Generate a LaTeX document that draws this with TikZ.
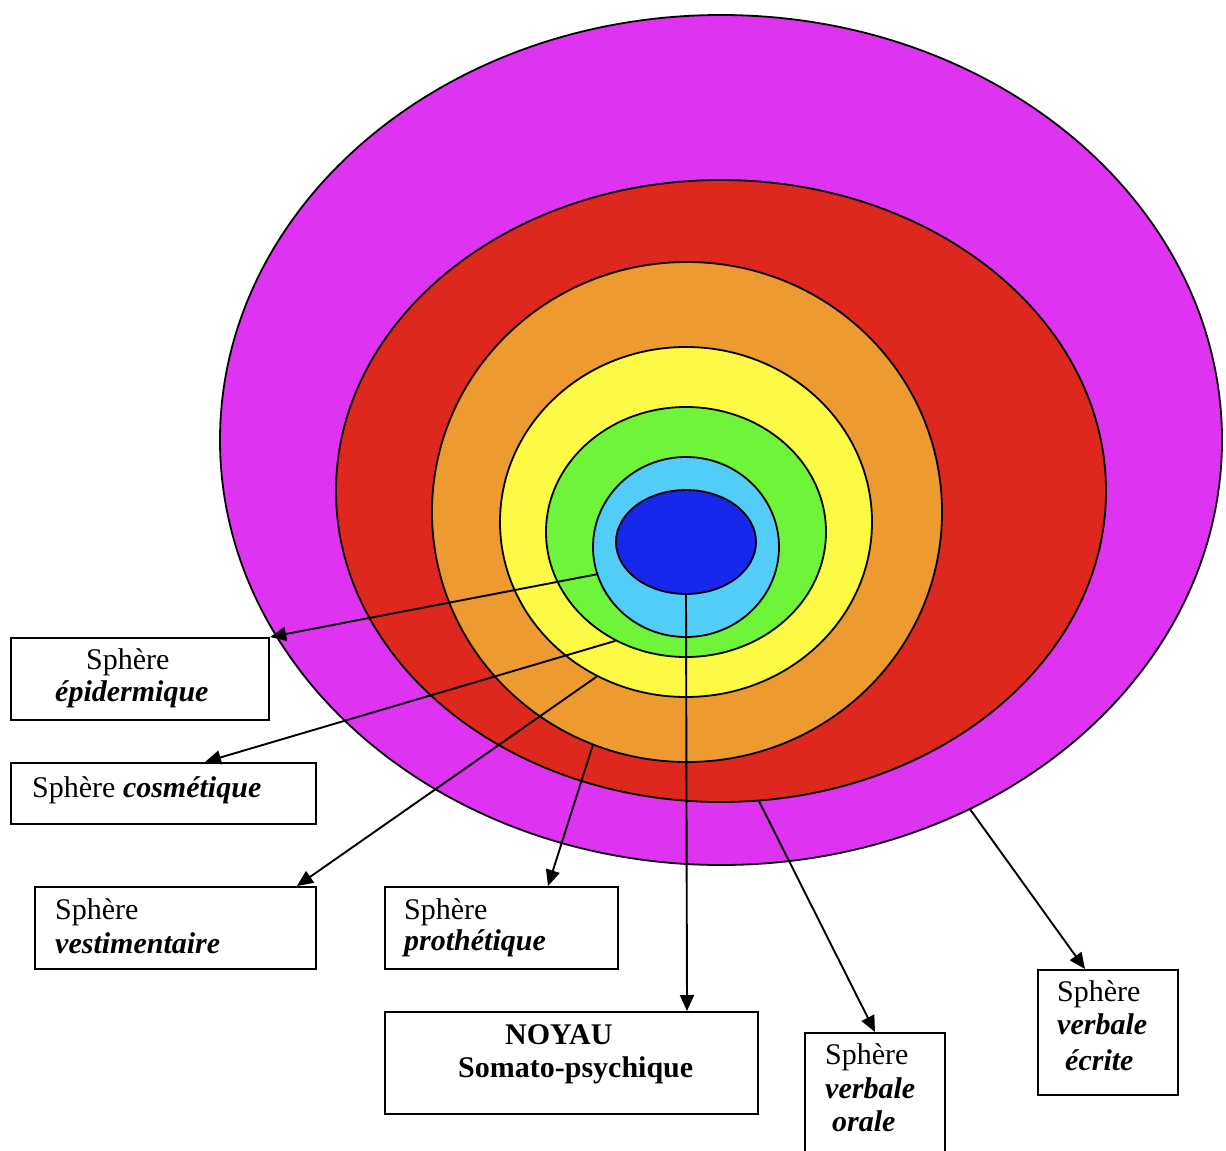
\documentclass[tikz,border=0pt]{standalone}
\usepackage{fontspec}
\setmainfont{Liberation Serif}
\usetikzlibrary{shapes.geometric,arrows.meta}
\definecolor{cpurple}{RGB}{222,52,242}
\definecolor{cred}{RGB}{222,40,30}
\definecolor{corange}{RGB}{237,154,48}
\definecolor{cyellow}{RGB}{252,250,68}
\definecolor{cgreen}{RGB}{110,245,58}
\definecolor{clblue}{RGB}{82,205,248}
\definecolor{cblue}{RGB}{22,40,236}
\begin{document}
\begin{tikzpicture}[x=1pt,y=-1pt,
  ring/.style={ellipse, draw=black, line width=1.8pt, inner sep=0pt},
  box/.style={draw=black, line width=2.2pt, fill=white, inner sep=0pt, anchor=north west},
  arr/.style={-{Triangle[length=16pt,width=14pt]}, line width=1.9pt},
  lbl/.style={anchor=west, inner sep=0pt, font=\fontsize{30}{32}\selectfont}]
\useasboundingbox[fill=white] (0,0) rectangle (1226,1151);
% rings
\node[ring, fill=cpurple, minimum width=1002pt, minimum height=850pt] (purple) at (721,440) {};
\node[ring, fill=cred,    minimum width=770pt,  minimum height=622pt] (red)    at (721,491) {};
\node[ring, fill=corange, minimum width=510pt,  minimum height=500pt] (orange) at (687,512) {};
\node[ring, fill=cyellow, minimum width=372pt,  minimum height=350pt] (yellow) at (686,522) {};
\node[ring, fill=cgreen,  minimum width=280pt,  minimum height=250pt] (green)  at (686,532) {};
\node[ring, fill=clblue,  minimum width=186pt,  minimum height=180pt] (lblue)  at (686,547) {};
\node[ring, fill=cblue,   minimum width=140pt,  minimum height=104pt] (blue)   at (686,542) {};
% boxes
\node[box, minimum width=258pt, minimum height=82pt]  (b1) at (10,637) {};
\node[box, minimum width=305pt, minimum height=61pt]  (b2) at (10,762) {};
\node[box, minimum width=281pt, minimum height=82pt]  (b3) at (34,886) {};
\node[box, minimum width=233pt, minimum height=82pt]  (b4) at (384,886) {};
\node[box, minimum width=373pt, minimum height=102pt] (b5) at (384,1011) {};
\node[box, minimum width=140pt, minimum height=130pt] (b6) at (804,1032) {};
\node[box, minimum width=140pt, minimum height=125pt] (b7) at (1037,969) {};
% texts
\node[lbl] (t1a) at (86,662) {Sphère};
\node[lbl] (t1b) at (55,694) {\textbf{\textit{épidermique}}};
\node[lbl] (t2a) at (32,790) {Sphère \textbf{\textit{cosmétique}}};
\node[lbl] (t3a) at (55,912) {Sphère};
\node[lbl] (t3b) at (55,943) {\textbf{\textit{vestimentaire}}};
\node[lbl] (t4a) at (404,912) {Sphère};
\node[lbl] (t4b) at (404,943) {\textbf{\textit{prothétique}}};
\node[lbl] (t5a) at (505,1035) {\textbf{NOYAU}};
\node[lbl] (t5b) at (458,1070) {\textbf{Somato-psychique}};
\node[lbl] (t6a) at (825,1057) {Sphère};
\node[lbl] (t6b) at (825,1088) {\textbf{\textit{verbale}}};
\node[lbl] (t6c) at (832,1121) {\textbf{\textit{orale}}};
\node[lbl] (t7a) at (1057,994) {Sphère};
\node[lbl] (t7b) at (1057,1024) {\textbf{\textit{verbale}}};
\node[lbl] (t7c) at (1065,1060) {\textbf{\textit{écrite}}};
% arrows
\draw[arr] (lblue.197) -- (b1.north east);
\draw[arr] (green.237) -- ([xshift=195pt]b2.north west);
\draw[arr] (yellow.240) -- ([xshift=263pt]b3.north west);
\draw[arr] (orange.248) -- ([xshift=164pt]b4.north west);
\draw[arr] (blue.south) -- ([xshift=303pt]b5.north west);
\draw[arr] (red.277) -- ([xshift=71pt]b6.north west);
\draw[arr] (purple.304) -- ([xshift=48pt]b7.north west);
\end{tikzpicture}
\end{document}
